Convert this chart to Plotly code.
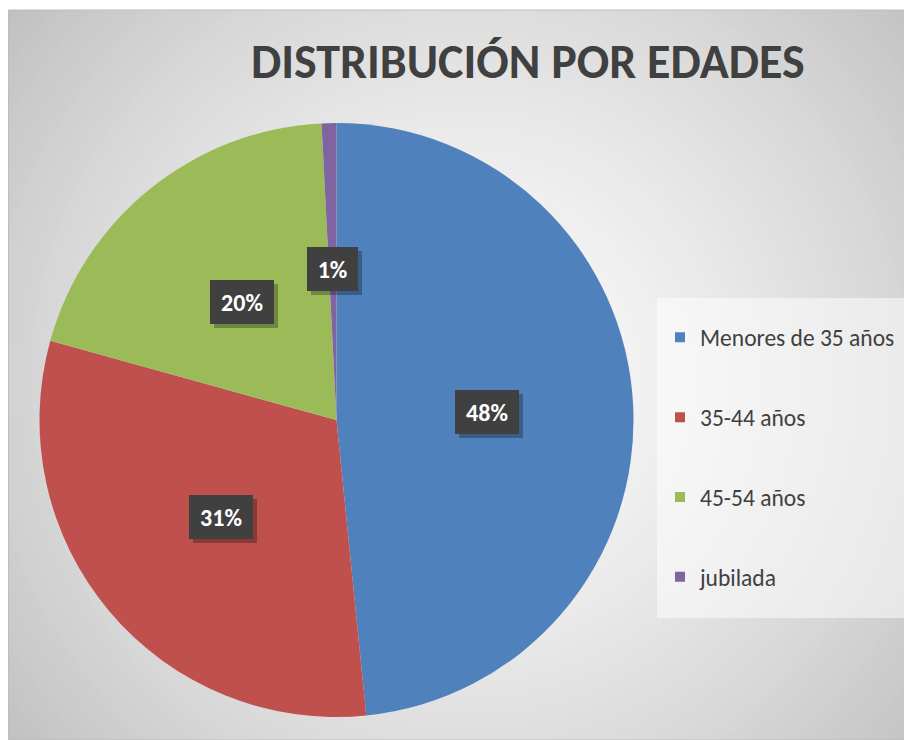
import math
import plotly.graph_objects as go

# ---------------- data ----------------
categories = ["Menores de 35 años", "35-44 años", "45-54 años", "jubilada"]
values = [48.4, 30.9, 19.9, 0.8]
colors = ["#4F81BD", "#C0504D", "#9BBB59", "#8064A2"]
title_text = "DISTRIBUCIÓN POR EDADES"

# ---------------- geometry helpers (page pixels -> paper) ----------------
# the page body has an 8px margin, so the figure starts at (8, 8)
OFF = 8
W, H = 904, 732
def fx(x):
    return (x - OFF) / W
def fy(y):
    return 1 - (y - OFF) / H

CX, CY, R = 336.5, 420, 297
dom_x = [fx(CX - R), fx(CX + R)]
dom_y = [fy(CY + R), fy(CY - R)]

FONT = "Calibri, Carlito, Lato, 'Open Sans', sans-serif"

fig = go.Figure()
fig.add_trace(go.Pie(
    labels=categories, values=values,
    marker=dict(colors=colors, line=dict(width=0)),
    sort=False, direction="clockwise", rotation=0,
    textinfo="none", showlegend=False,
    domain=dict(x=dom_x, y=dom_y),
    hoverinfo="label+percent",
))

# legend entries (one group per category so the rows can be spaced)
for name, c in zip(categories, colors):
    fig.add_trace(go.Scatter(
        x=[None], y=[None], mode="markers",
        marker=dict(symbol="square", size=10, color=c),
        name=name, legendgroup=name, showlegend=True,
    ))

# ---------------- background gradient ----------------
shapes = []
GX, GY = 470, 380
RMAX = 640
N = 70
for i in range(N):
    r = RMAX * (1 - i / N)
    v = 250 - 0.00397 * r ** 1.5
    v = int(round(max(188, min(250, v))))
    shapes.append(dict(type="circle", xref="paper", yref="paper",
                       x0=fx(GX - r), x1=fx(GX + r), y0=fy(GY + r), y1=fy(GY - r),
                       fillcolor=f"rgb({v},{v},{v})", line=dict(width=0), layer="below"))
# thin white page strip above the chart frame
shapes.append(dict(type="rect", xref="paper", yref="paper", x0=0, x1=1, y0=fy(10), y1=1,
                   fillcolor="white", line=dict(width=0), layer="below"))
# frame
shapes.append(dict(type="rect", xref="paper", yref="paper", x0=fx(8.5), x1=1.0, y0=0, y1=fy(10),
                   fillcolor="rgba(0,0,0,0)", line=dict(width=1, color="#bdbdbd"), layer="below"))
# legend box
shapes.append(dict(type="rect", xref="paper", yref="paper", x0=fx(657), x1=fx(910), y0=fy(618), y1=fy(298),
                   fillcolor="rgba(255,255,255,0.5)", line=dict(width=0), layer="below"))

# ---------------- data labels ----------------
annotations = []
total = sum(values)
cum = 0.0
for v in values:
    mid = (cum + v / 2) / total * 2 * math.pi
    cum += v
    lx = CX + 0.508 * R * math.sin(mid)
    ly = CY - 0.508 * R * math.cos(mid)
    txt = f"{round(v / total * 100)}%"
    bw = 25 + 13 * len(txt)
    common = dict(xref="paper", yref="paper", x=fx(lx), y=fy(ly), xanchor="center", yanchor="middle",
                  showarrow=False, width=bw, height=44, borderpad=0, borderwidth=0)
    annotations.append(dict(text="\u00a0", bgcolor="rgba(0,0,0,0.28)",
                            font=dict(family=FONT, size=24, color="rgba(0,0,0,0)"),
                            xshift=4, yshift=-4, **common))
    annotations.append(dict(text=txt, bgcolor="#404040",
                            font=dict(family=FONT, size=24, color="white", weight="bold"),
                            **common))

annotations.append(dict(text=title_text, xref="paper", yref="paper", x=fx(528), y=fy(61),
                        xanchor="center", yanchor="middle", showarrow=False,
                        font=dict(family=FONT, size=48, color="#404040", weight="bold")))

fig.update_layout(
    width=W, height=H,
    margin=dict(l=0, r=0, t=0, b=0),
    paper_bgcolor="white", plot_bgcolor="rgba(0,0,0,0)",
    xaxis=dict(visible=False), yaxis=dict(visible=False),
    shapes=shapes, annotations=annotations,
    showlegend=True,
    legend=dict(x=fx(660), y=fy(315.5), xanchor="left", yanchor="top",
                bgcolor="rgba(0,0,0,0)", borderwidth=0,
                font=dict(family=FONT, size=23.5, color="#404040"),
                tracegroupgap=46.3, itemsizing="trace"),
)

fig.write_html("out.html")
